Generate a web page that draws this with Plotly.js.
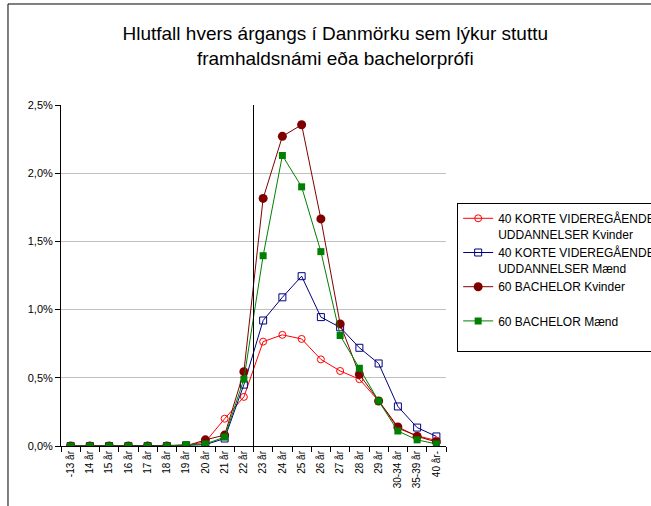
<!DOCTYPE html>
<html>
<head>
<meta charset="utf-8">
<script src="https://cdn.plot.ly/plotly-3.0.1.min.js"></script>
<style>
  body { margin: 0; padding: 0; background: #fff; }
  #myDiv { width: 651px; height: 506px; }
</style>
</head>
<body>
<div id="myDiv"></div>
<script>
  var categories = ['-13 år', '14 år', '15 år', '16 år', '17 år', '18 år', '19 år', '20 år',
    '21 år', '22 år', '23 år', '24 år', '25 år', '26 år', '27 år', '28 år', '29 år',
    '30-34 år', '35-39 år', '40 år-'];

  // shares in percent of each cohort
  var korteKvinder = [0, 0, 0, 0, 0, 0, 0.005, 0.03, 0.20, 0.36, 0.765, 0.815, 0.785, 0.635,
    0.55, 0.49, 0.33, 0.13, 0.075, 0.04];
  var korteMaend = [0, 0, 0, 0, 0, 0, 0.005, 0.01, 0.055, 0.45, 0.92, 1.09, 1.245, 0.945,
    0.87, 0.72, 0.605, 0.29, 0.135, 0.07];
  var bachelorKvinder = [0, 0, 0, 0, 0, 0, 0, 0.045, 0.08, 0.545, 1.815, 2.27, 2.355, 1.665,
    0.895, 0.525, 0.33, 0.14, 0.07, 0.03];
  var bachelorMaend = [0, 0, 0, 0, 0, 0, 0.01, 0.015, 0.065, 0.49, 1.395, 2.13, 1.9, 1.425,
    0.81, 0.57, 0.33, 0.11, 0.045, 0.015];

  var seriesNames = [
    '40 KORTE VIDEREGÅENDE<br>UDDANNELSER Kvinder',
    '40 KORTE VIDEREGÅENDE<br>UDDANNELSER Mænd',
    '60 BACHELOR Kvinder<br> ',
    '60 BACHELOR Mænd<br> '
  ];

  var kvinder40 = {
    x: categories,
    y: korteKvinder,
    type: 'scatter',
    mode: 'lines+markers',
    name: seriesNames[0],
    line: { color: '#ff0000', width: 1 },
    marker: { symbol: 'circle-open', size: 7, color: '#ff0000', line: { width: 1 } }
  };

  var maend40 = {
    x: categories,
    y: korteMaend,
    type: 'scatter',
    mode: 'lines+markers',
    name: seriesNames[1],
    line: { color: '#000080', width: 1 },
    marker: { symbol: 'square-open', size: 7, color: '#000080', line: { width: 1 } }
  };

  var kvinder60 = {
    x: categories,
    y: bachelorKvinder,
    type: 'scatter',
    mode: 'lines+markers',
    name: seriesNames[2],
    line: { color: '#800000', width: 1 },
    marker: { symbol: 'circle', size: 9, color: '#800000' }
  };

  var maend60 = {
    x: categories,
    y: bachelorMaend,
    type: 'scatter',
    mode: 'lines+markers',
    name: seriesNames[3],
    line: { color: '#008000', width: 1 },
    marker: { symbol: 'square', size: 7, color: '#008000' }
  };

  var layout = {
    width: 651,
    height: 506,
    margin: { l: 61, r: 205, t: 105, b: 60, autoexpand: false },
    paper_bgcolor: '#ffffff',
    plot_bgcolor: '#ffffff',
    separators: ',.',
    font: { family: 'Liberation Sans, Arial, sans-serif', size: 11, color: '#000' },
    title: {
      text: 'Hlutfall hvers árgangs í Danmörku sem lýkur stuttu<br>framhaldsnámi eða bachelorprófi',
      font: { size: 19, color: '#000' },
      xref: 'container',
      x: 0.515,
      xanchor: 'center',
      yref: 'container',
      y: 0.92,
      yanchor: 'top'
    },
    showlegend: true,
    legend: {
      x: 1.029,
      y: 0.7126,
      xanchor: 'left',
      yanchor: 'top',
      bgcolor: '#ffffff',
      bordercolor: '#000',
      borderwidth: 1,
      valign: 'top',
      tracegroupgap: 0,
      font: { size: 12 }
    },
    xaxis: {
      type: 'category',
      showline: true,
      linecolor: '#000',
      linewidth: 1,
      showgrid: false,
      zeroline: false,
      ticks: 'outside',
      tickson: 'boundaries',
      ticklen: 5,
      tickcolor: '#000',
      tickangle: -90,
      tickfont: { size: 10 },
      range: [-0.5, 19.5]
    },
    yaxis: {
      range: [0, 2.5],
      dtick: 0.5,
      tickformat: '.1f',
      ticksuffix: '%',
      showline: true,
      linecolor: '#000',
      linewidth: 1,
      showgrid: true,
      gridcolor: '#c0c0c0',
      zeroline: false,
      ticks: 'outside',
      ticklen: 5,
      tickcolor: '#000',
      tickfont: { size: 11 }
    },
    shapes: [
      // marker between 22 and 23 years
      { type: 'line', xref: 'x', yref: 'paper', x0: 9.5, x1: 9.5, y0: 0, y1: 1,
        line: { color: '#000', width: 1 } },
      // chart frame, left and top edges
      { type: 'line', xref: 'paper', yref: 'paper', x0: -0.1377, x1: -0.1377, y0: 1.2962, y1: -0.2,
        line: { color: '#000', width: 1 } },
      { type: 'line', xref: 'paper', yref: 'paper', x0: -0.1377, x1: 1.6, y0: 1.2962, y1: 1.2962,
        line: { color: '#000', width: 1 } }
    ]
  };

  var dd = [kvinder40, maend40, kvinder60, maend60];

  Plotly.newPlot('myDiv', dd, layout, { displayModeBar: false, staticPlot: true });
</script>
</body>
</html>
